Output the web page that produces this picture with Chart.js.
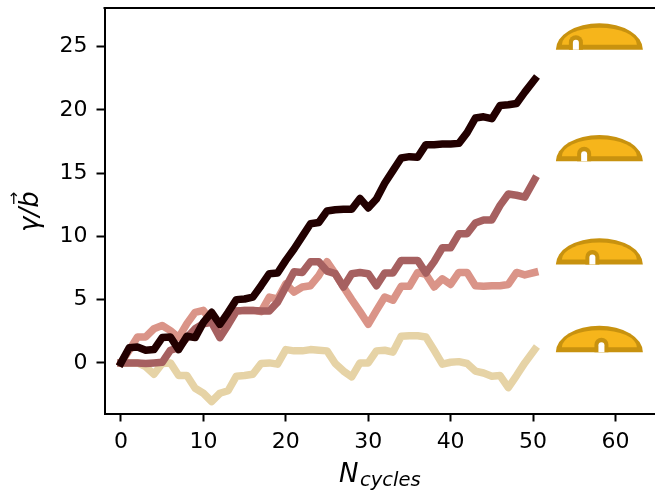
<!DOCTYPE html>
<html>
<head>
<meta charset="utf-8">
<title>Cycles</title>
<style>
    html, body { margin: 0; padding: 0; background: #fff; overflow: hidden; }
    canvas { display: block; }
</style>
</head>
<body>
<canvas id="cyclesChart" width="655" height="494"></canvas>
<script src="https://cdn.jsdelivr.net/npm/chart.js@4/dist/chart.umd.min.js"></script>
<script>
    'use strict';

    // Values, one per cycle
    var cycles = [0, 1, 2, 3, 4, 5, 6, 7, 8, 9, 10, 11, 12, 13, 14, 15, 16, 17, 18, 19, 20, 21, 22, 23, 24, 25,
        26, 27, 28, 29, 30, 31, 32, 33, 34, 35, 36, 37, 38, 39, 40, 41, 42, 43, 44, 45, 46, 47, 48, 49, 50.2];
    var darkSeries = [0, 1.2, 1.25, 1.0, 1.05, 2.0, 2.05, 1.05, 2.1, 2.0, 3.2, 4.0, 3.05, 4.0, 5.0, 5.05, 5.2, 6.1, 7.05, 7.1,
        8.1, 9.0, 10.0, 11.0, 11.1, 12.0, 12.1, 12.15, 12.15, 13.0, 12.25, 12.95, 14.2, 15.2, 16.2, 16.3, 16.25, 17.25, 17.25, 17.3,
        17.3, 17.35, 18.2, 19.35, 19.45, 19.3, 20.35, 20.4, 20.5, 21.4, 22.4];
    var maroonSeries = [0, 0, 0, -0.05, 0, 0.05, 1.0, 1.2, 2.0, 2.7, 3.1, 3.2, 2.0, 3.0, 4.1, 4.15, 4.15, 4.1, 4.1, 4.8,
        6.0, 7.2, 7.15, 8.0, 8.0, 7.25, 7.05, 6.0, 7.05, 7.15, 7.05, 6.1, 7.1, 7.1, 8.1, 8.1, 8.1, 7.1, 8.0, 9.1,
        9.1, 10.2, 10.2, 11.05, 11.3, 11.3, 12.45, 13.35, 13.25, 13.1, 14.5];
    var pinkSeries = [0, 1.0, 2.05, 2.05, 2.7, 2.95, 2.55, 2.0, 3.1, 4.0, 4.15, 3.2, 2.4, 3.2, 4.1, 4.15, 4.15, 4.05, 5.2, 5.05,
        6.25, 5.6, 6.0, 6.1, 6.9, 8.0, 7.05, 6.0, 5.0, 4.05, 3.05, 4.15, 5.2, 4.95, 6.05, 6.05, 7.15, 7.0, 6.0, 6.65,
        6.2, 7.15, 7.15, 6.1, 6.05, 6.1, 6.1, 6.2, 7.15, 6.95, 7.15];
    var tanSeries = [0, 0, 0, -0.3, -0.9, -0.05, 0, -1.0, -1.0, -2.0, -2.4, -3.05, -2.4, -2.2, -1.05, -1.0, -0.9, -0.05, 0, -0.1,
        1.05, 0.95, 0.95, 1.05, 1.0, 0.95, -0.05, -0.65, -1.1, 0, 0, 0.95, 1.0, 0.85, 2.1, 2.15, 2.15, 2.05, 1.0, -0.1,
        0.05, 0.1, -0.05, -0.65, -0.8, -1.05, -1.0, -1.95, -1.0, 0, 1.05];

    var xTickValues = [0, 10, 20, 30, 40, 50, 60];
    var yTickValues = [0, 5, 10, 15, 20, 25];

    // Dome icons, anchored in data units: bottom edge and notch position
    var domeBases = [24.76, 15.94, 7.78, 0.85];
    var domeNotches = [55.2, 56.2, 57.2, 58.3];
    var domeCentre = 58.05;

    function toPoints(values) {
        return values.map(function (value, i) {
            return { x: cycles[i], y: value };
        });
    }

    function lineDataset(values, color) {
        return {
            data: toPoints(values),
            borderColor: color,
            borderWidth: 7.5,
            borderCapStyle: 'square',
            borderJoinStyle: 'round',
            pointRadius: 0,
            tension: 0,
            clip: false
        };
    }

    // Half ellipse sitting on a flat base
    function domePath(ctx, cx, base, rx, ry) {
        ctx.beginPath();
        ctx.ellipse(cx, base, rx, ry, 0, Math.PI, 2 * Math.PI);
        ctx.closePath();
    }

    // Narrow arch with a round top, used for the notch
    function archPath(ctx, cx, base, halfWidth, height) {
        ctx.beginPath();
        ctx.moveTo(cx - halfWidth, base);
        ctx.lineTo(cx - halfWidth, base - height + halfWidth);
        ctx.arc(cx, base - height + halfWidth, halfWidth, Math.PI, 2 * Math.PI);
        ctx.lineTo(cx + halfWidth, base);
        ctx.closePath();
    }

    function drawDome(ctx, cx, base, notchX) {
        ctx.fillStyle = '#c8920f';
        domePath(ctx, cx, base, 43.5, 26.3);
        ctx.fill();
        ctx.fillStyle = '#f6b51b';
        domePath(ctx, cx, base - 5, 37.5, 17);
        ctx.fill();
        ctx.fillStyle = '#c8920f';
        archPath(ctx, notchX, base, 7, 14.5);
        ctx.fill();
        ctx.fillStyle = '#ffffff';
        archPath(ctx, notchX, base, 3, 10);
        ctx.fill();
    }

    var decorations = {
        id: 'decorations',
        afterDraw: function (chart) {
            var ctx = chart.ctx;
            var area = chart.chartArea;
            var xScale = chart.scales.x;
            var yScale = chart.scales.y;

            ctx.save();

            // Top spine
            ctx.strokeStyle = '#000';
            ctx.lineWidth = 2;
            ctx.beginPath();
            ctx.moveTo(area.left - 1, area.top);
            ctx.lineTo(area.right, area.top);
            ctx.stroke();

            domeBases.forEach(function (base, i) {
                drawDome(ctx, xScale.getPixelForValue(domeCentre), yScale.getPixelForValue(base),
                    xScale.getPixelForValue(domeNotches[i]));
            });

            // x axis label
            ctx.fillStyle = '#000';
            ctx.textAlign = 'left';
            ctx.textBaseline = 'alphabetic';
            ctx.font = 'italic 26px "DejaVu Sans"';
            ctx.fillText('N', 339, 482);
            ctx.font = 'italic 19.5px "DejaVu Sans"';
            ctx.fillText('cycles', 360, 486);

            // y axis label
            ctx.translate(38, 232);
            ctx.rotate(-Math.PI / 2);
            ctx.font = 'italic 26px "DejaVu Sans"';
            ctx.fillText('γ/b', 0, 0);
            ctx.font = '16px "DejaVu Sans"';
            ctx.fillText('→', 27, -19);

            ctx.restore();
        }
    };

    var ctx = document.getElementById('cyclesChart').getContext('2d');
    var cyclesChart = new Chart(ctx, {
        type: 'line',
        data: {
            // The first dataset is painted last
            datasets: [
                lineDataset(darkSeries, '#220000'),
                lineDataset(maroonSeries, '#a66060'),
                lineDataset(pinkSeries, '#da9488'),
                lineDataset(tanSeries, '#e6d3a6')
            ]
        },
        options: {
            responsive: false,
            animation: false,
            layout: { padding: { top: 8, left: 0, right: 0, bottom: 0 } },
            plugins: {
                legend: { display: false },
                title: { display: false },
                tooltip: { enabled: false }
            },
            scales: {
                x: {
                    type: 'linear',
                    min: -2,
                    max: 64.8,
                    afterBuildTicks: function (scale) {
                        scale.ticks = xTickValues.map(function (v) { return { value: v }; });
                    },
                    afterFit: function (scale) {
                        scale.height = 80.5;
                        scale.paddingLeft = 0;
                        scale.paddingRight = 0;
                    },
                    border: { display: true, color: '#000', width: 2 },
                    grid: { drawOnChartArea: false, drawTicks: true, tickLength: 8, tickWidth: 2, tickColor: '#000' },
                    ticks: {
                        color: '#000',
                        padding: 8,
                        maxRotation: 0,
                        autoSkip: false,
                        font: { family: '"DejaVu Sans"', size: 22 }
                    }
                },
                y: {
                    min: -4.0,
                    max: 28.05,
                    afterBuildTicks: function (scale) {
                        scale.ticks = yTickValues.map(function (v) { return { value: v }; });
                    },
                    afterFit: function (scale) {
                        scale.width = 104.5;
                        scale.paddingTop = 0;
                        scale.paddingBottom = 0;
                    },
                    border: { display: true, color: '#000', width: 2 },
                    grid: { drawOnChartArea: false, drawTicks: true, tickLength: 8, tickWidth: 2, tickColor: '#000' },
                    ticks: {
                        color: '#000',
                        padding: 9,
                        autoSkip: false,
                        font: { family: '"DejaVu Sans"', size: 22 }
                    }
                }
            }
        },
        plugins: [decorations]
    });
</script>
</body>
</html>
